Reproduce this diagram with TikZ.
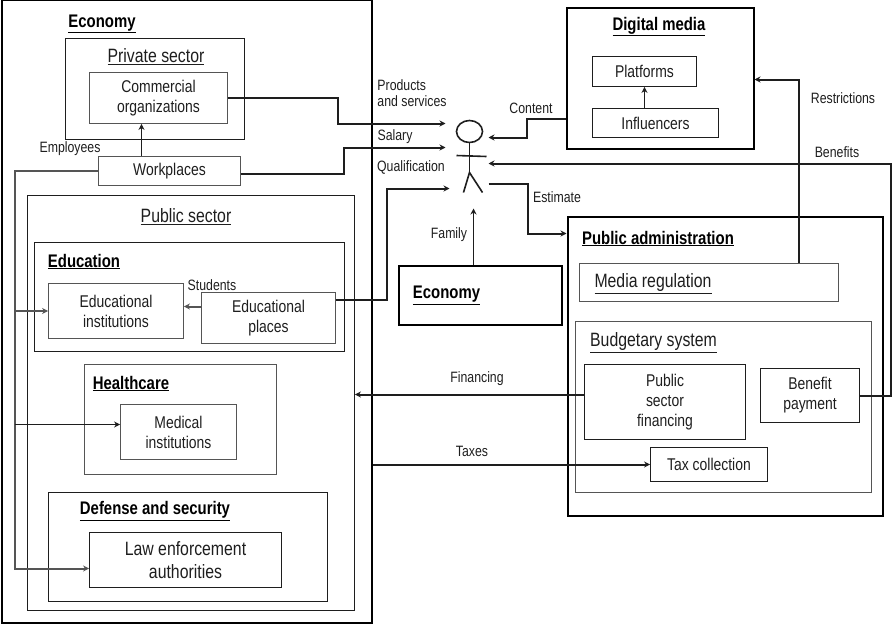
\documentclass[tikz,border=0pt]{standalone}
\usepackage{fontspec}
\setmainfont[FakeStretch=0.82]{Liberation Sans}
\usetikzlibrary{shapes.geometric, arrows.meta, positioning, calc}
\definecolor{edge}{RGB}{30, 30, 30}
\definecolor{soft}{RGB}{85, 85, 85}
\tikzstyle{outer} = [rectangle, draw=black, line width=2pt, inner sep=0pt]
\tikzstyle{group} = [rectangle, draw=edge, line width=0.9pt, inner sep=0pt]
\tikzstyle{unit} = [rectangle, draw=soft, line width=0.9pt, inner sep=0pt, align=center, text=edge, font=\fontsize{17}{20}\selectfont]
\tikzstyle{bigunit} = [unit, font=\fontsize{19.3}{23}\selectfont]
\tikzstyle{heading} = [inner sep=0pt, text=black, font=\fontsize{18.2}{20}\selectfont\bfseries]
\tikzstyle{subheading} = [inner sep=0pt, text=edge, font=\fontsize{19.3}{20}\selectfont]
\tikzstyle{tag} = [inner sep=0pt, align=left, text=edge, font=\fontsize{15}{16}\selectfont]
\tikzstyle{arrow} = [line width=2pt, edge, -{Stealth[length=6pt,width=6pt]}]
\tikzstyle{softarrow} = [line width=2pt, soft, -{Stealth[length=6pt,width=6pt]}]
\tikzstyle{limb} = [line width=1.6pt, edge]
\begin{document}
\begin{tikzpicture}[x=1pt, y=-1pt]
    \useasboundingbox (0,0) rectangle (892,624);
    \begin{scope}[shift={(0.5,0.5)}]

    % Economy block
    \node[outer, minimum width=370pt, minimum height=623pt] (economy) at (186,311) {};
    \node[heading] (economytitle) at (101.5,23.5) {\underline{Economy}};
    \node[group, minimum width=179pt, minimum height=101pt] (private) at (154.5,88.5) {};
    \node[subheading] (privatetitle) at (155.5,56) {\underline{Private sector}};
    \node[unit, minimum width=138pt, minimum height=51pt] (commercial) at (158,97.5) {Commercial\\organizations};
    \node[unit, minimum width=142pt, minimum height=29pt] (workplaces) at (169,170.5) {Workplaces};
    \node[group, minimum width=327pt, minimum height=415pt] (public) at (190.5,402.5) {};
    \node[subheading] (publictitle) at (185.5,216) {\underline{Public sector}};

    \node[group, minimum width=310pt, minimum height=109pt] (education) at (189,296.5) {};
    \node[heading] (educationtitle) at (83.5,261) {\underline{Education}};
    \node[unit, minimum width=135pt, minimum height=55pt] (institutions) at (115.5,310.5) {Educational\\institutions};
    \node[unit, minimum width=134pt, minimum height=51pt] (places) at (268,317.5) {Educational\\places};

    \node[group, draw=soft, minimum width=192pt, minimum height=110pt] (healthcare) at (180,419) {};
    \node[heading] (healthcaretitle) at (130.5,383) {\underline{Healthcare}};
    \node[unit, minimum width=116pt, minimum height=55pt] (medical) at (178,431.5) {Medical\\institutions};

    \node[group, minimum width=279pt, minimum height=109pt] (defense) at (187.5,546.5) {};
    \node[heading] (defensetitle) at (154.5,510.5) {\underline{Defense and security}};
    \node[bigunit, draw=edge, minimum width=192pt, minimum height=55pt] (law) at (185,559.5) {Law enforcement\\authorities};

    % Digital media block
    \node[outer, minimum width=187pt, minimum height=141pt] (digital) at (659.5,77.5) {};
    \node[heading] (digitaltitle) at (658.5,26) {\underline{Digital media}};
    \node[unit, draw=edge, minimum width=104pt, minimum height=30pt] (platforms) at (644,71) {Platforms};
    \node[unit, draw=edge, minimum width=126pt, minimum height=29pt] (influencers) at (655,122.5) {Influencers};

    % Public administration block
    \node[outer, minimum width=315pt, minimum height=299pt] (administration) at (724.5,365.5) {};
    \node[heading] (administrationtitle) at (657.5,238) {\underline{Public administration}};
    \node[group, draw=soft, minimum width=259pt, minimum height=38pt] (regulation) at (708.5,282) {};
    \node[subheading] (regulationtitle) at (652.5,283) {\underline{Media regulation}};
    \node[group, draw=soft, minimum width=296pt, minimum height=171pt] (budgetary) at (723,406.5) {};
    \node[subheading] (budgetarytitle) at (653,342.5) {\underline{Budgetary system}};
    \node[unit, draw=edge, minimum width=161pt, minimum height=75pt] (financing) at (664.5,401.5) {Public\\sector\\financing};
    \node[unit, draw=edge, minimum width=99pt, minimum height=54pt] (payment) at (809.5,395) {Benefit\\payment};
    \node[unit, draw=edge, minimum width=117pt, minimum height=34pt] (taxes) at (708.5,464) {Tax collection};

    % Family economy
    \node[outer, minimum width=163pt, minimum height=59pt] (family) at (479.5,294.5) {};
    \node[heading] (familytitle) at (446,295) {\underline{Economy}};

    % Person
    \node[ellipse, draw=edge, line width=1.6pt, minimum width=26pt, minimum height=22pt, inner sep=0pt] (head) at (469,131) {};
    \coordinate (hip) at (469,172);
    \coordinate (handleft) at (456,155);
    \coordinate (handright) at (486,156);
    \coordinate (footleft) at (463,192);
    \coordinate (footright) at (482,192);
    \draw[limb] (head.south) -- (hip);
    \draw[limb] (handleft) -- (handright);
    \draw[limb] (footleft) -- (hip) -- (footright);

    % Person ports
    \coordinate (inproducts) at (445,123);
    \coordinate (insalary) at (445,147);
    \coordinate (inqualification) at (449,188);
    \coordinate (incontent) at (488,137);
    \coordinate (inbenefits) at (488,163);
    \coordinate (outestimate) at (488,183);
    \coordinate (infamily) at (473,208);
    \coordinate (inrestrictions) at (754,79);

    % Arrows
    \draw[arrow] (commercial.east) -- ++(110,0) |- (inproducts);
    \draw[arrow] ($(workplaces.east)+(0,3)$) -- ++(103,0) |- (insalary);
    \draw[arrow] ($(places.east)+(0,-18)$) -- ++(51,0) |- (inqualification);
    \draw[arrow] ($(digital.west)+(0,41)$) -- ++(-39,0) |- (incontent);
    \draw[arrow] (payment.east) -- ++(31,0) |- (inbenefits);
    \draw[arrow] (outestimate) -- ++(39,0) |- ($(administration.west)+(0,-132.5)$);
    \draw[arrow, line width=1.3pt] (family.north -| infamily) -- (infamily);
    \draw[softarrow, edge] ($(regulation.north)+(89.5,0)$) |- (inrestrictions);
    \draw[arrow, line width=1.3pt] (influencers.north -| platforms) -- (platforms.south);
    \draw[arrow, line width=1.3pt] (workplaces.north -| 141,0) -- (commercial.south -| 141,0);
    \draw[softarrow] (places.west |- 0,306) -- (institutions.east |- 0,306);
    \draw[softarrow] (workplaces.west) -| (14,568) -- (law.west |- 0,568);
    \draw[softarrow] (14,310.5) -- (institutions.west);
    \draw[softarrow, edge, line width=1.3pt] (14,424) -- (medical.west |- 0,424);
    \draw[arrow] (financing.west |- 0,394) -- (public.east |- 0,394);
    \draw[arrow] (economy.east |- taxes.west) -- (taxes.west);

    % Labels
    \node[tag] (products) at (411.5,93) {Products\\and services};
    \node[tag] (salary) at (394.5,136) {Salary};
    \node[tag] (qualification) at (410.5,167) {Qualification};
    \node[tag] (content) at (530.5,108) {Content};
    \node[tag] (estimate) at (556.5,197) {Estimate};
    \node[tag] (familylabel) at (448.5,234) {Family};
    \node[tag] (employees) at (69.5,148) {Employees};
    \node[tag] (students) at (211.5,285) {Students};
    \node[tag] (restrictions) at (842.5,98) {Restrictions};
    \node[tag] (benefits) at (836.5,152) {Benefits};
    \node[tag] (financinglabel) at (476.5,378) {Financing};
    \node[tag] (taxeslabel) at (471.5,451) {Taxes};
    \end{scope}
\end{tikzpicture}
\end{document}
